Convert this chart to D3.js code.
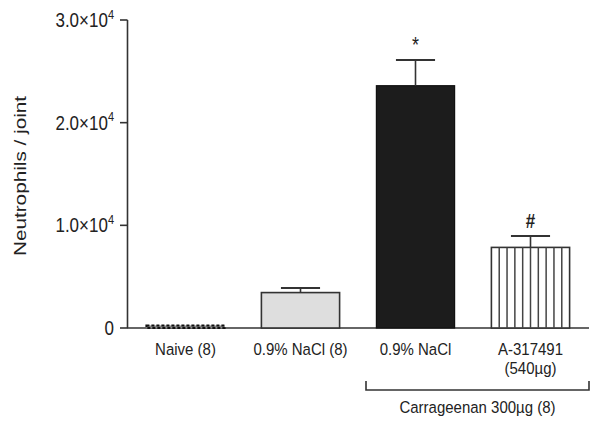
<!DOCTYPE html>
<html>
<head>
<meta charset="utf-8">
<script src="https://cdn.jsdelivr.net/npm/d3@7"></script>
<style>
  body { margin: 0; background: #fff; }
  svg { display: block; font-family: "Liberation Sans", Arial, sans-serif; }
</style>
</head>
<body>
<svg id="chart" width="601" height="427"></svg>
<script>
// datos
const categorias = ["naive", "nacl", "carr_nacl", "a317491"];
const etiquetas = [["Naive (8)"], ["0.9% NaCl (8)"], ["0.9% NaCl"], ["A-317491", "(540\u00b5g)"]];
const medias = [250, 3450, 23600, 7850];
const errores = [0, 450, 2500, 1100];
const marcas = ["", "", "*", "#"];
const ticksY = [0, 10000, 20000, 30000];
const ticksTexto = [["0", ""], ["1.0\u00d710", "4"], ["2.0\u00d710", "4"], ["3.0\u00d710", "4"]];

const svg = d3.select("#chart");

const y = d3.scaleLinear().domain([0, 30000]).range([328, 20]);
const x = d3.scaleBand().domain(categorias).range([128, 588])
    .paddingInner(0.32).paddingOuter(0.16);

const gris = "#333";
const estira = 1.2; // el texto del original esta estirado en vertical

// texto con estiramiento vertical
function texto(px, py, size, anchor, sy = estira) {
    return svg.append("text")
        .attr("transform", `translate(${px},${py}) scale(1,${sy})`)
        .attr("text-anchor", anchor)
        .attr("font-size", size)
        .attr("fill", "#222");
}

// eje y
svg.append("line")
    .attr("x1", 127.5).attr("x2", 127.5)
    .attr("y1", y(30000)).attr("y2", y(0))
    .attr("stroke", gris).attr("stroke-width", 1.6);

ticksY.forEach((t, i) => {
    svg.append("line")
        .attr("x1", 120).attr("x2", 127.5)
        .attr("y1", y(t)).attr("y2", y(t))
        .attr("stroke", gris).attr("stroke-width", 1.6);
    const txt = texto(114, y(t) + 7, 17, "end");
    txt.append("tspan").text(ticksTexto[i][0]);
    if (ticksTexto[i][1]) {
        txt.append("tspan").attr("dy", -7).attr("font-size", 11).text(ticksTexto[i][1]);
    }
});

svg.append("text")
    .attr("transform", `translate(26, ${y(15000) + 2}) rotate(-90) scale(1.22,1)`)
    .attr("text-anchor", "middle")
    .attr("font-size", 17)
    .attr("fill", "#222")
    .text("Neutrophils / joint");

// eje x
svg.append("line")
    .attr("x1", 127).attr("x2", 589)
    .attr("y1", y(0)).attr("y2", y(0))
    .attr("stroke", gris).attr("stroke-width", 1.6);

// barras
const barras = svg.append("g");
categorias.forEach((c, i) => {
    const x0 = x(c), w = x.bandwidth();
    const top = y(medias[i]);
    const alto = y(0) - top;
    if (i === 0) {
        barras.append("rect")
            .attr("x", x0).attr("y", top).attr("width", w).attr("height", alto)
            .attr("fill", "#888")
            .attr("stroke", "#111").attr("stroke-width", 2)
            .attr("stroke-dasharray", "3,2");
    } else if (i === 1) {
        barras.append("rect")
            .attr("x", x0).attr("y", top).attr("width", w).attr("height", alto)
            .attr("fill", "#dedede").attr("stroke", gris).attr("stroke-width", 1.6);
    } else if (i === 2) {
        barras.append("rect")
            .attr("x", x0).attr("y", top).attr("width", w).attr("height", alto)
            .attr("fill", "#1c1c1c").attr("stroke", "#111").attr("stroke-width", 1.2);
    } else {
        barras.append("rect")
            .attr("x", x0).attr("y", top).attr("width", w).attr("height", alto)
            .attr("fill", "#fff").attr("stroke", gris).attr("stroke-width", 1.6);
        d3.range(1, 10).forEach(k => {
            barras.append("line")
                .attr("x1", x0 + k * w / 10).attr("x2", x0 + k * w / 10)
                .attr("y1", top).attr("y2", y(0))
                .attr("stroke", "#444").attr("stroke-width", 1.5);
        });
    }
    // barra de error
    if (errores[i] > 0) {
        const cx = x0 + w / 2;
        const ye = y(medias[i] + errores[i]);
        barras.append("line")
            .attr("x1", cx).attr("x2", cx).attr("y1", ye).attr("y2", top)
            .attr("stroke", gris).attr("stroke-width", 1.6);
        barras.append("line")
            .attr("x1", cx - w / 4).attr("x2", cx + w / 4).attr("y1", ye).attr("y2", ye)
            .attr("stroke", gris).attr("stroke-width", 2);
        if (marcas[i]) {
            if (marcas[i] === "*") texto(cx, ye - 8, 18, "middle").text("*");
            else texto(cx, ye - 8, 17, "middle").attr("font-weight", "bold").text("#");
        }
    }
    // etiquetas
    etiquetas[i].forEach((t, j) => {
        texto(x0 + w / 2, 355 + j * 19, 15, "middle", 1.1).text(t);
    });
});

// corchete de carragenina
const bx1 = 366, bx2 = 589, by = 390;
svg.append("path")
    .attr("d", `M${bx1},${by - 9}V${by}H${bx2}V${by - 9}`)
    .attr("fill", "none").attr("stroke", gris).attr("stroke-width", 1.6);
texto((bx1 + bx2) / 2, 413, 15, "middle", 1.1).text("Carrageenan 300\u00b5g (8)");
</script>
</body>
</html>
